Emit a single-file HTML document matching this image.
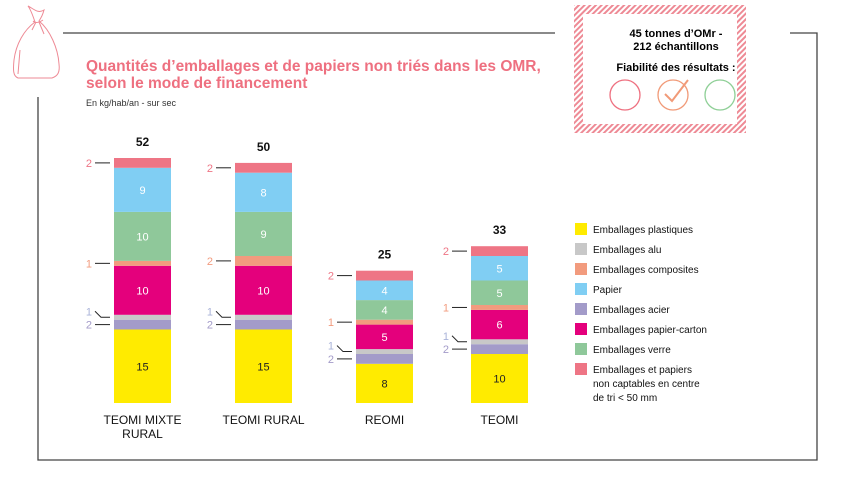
<!DOCTYPE html>
<html><head><meta charset="utf-8"><style>
body{margin:0;width:842px;height:478px;background:#fff;font-family:"Liberation Sans",sans-serif;position:relative;overflow:hidden}
svg{position:absolute;left:0;top:0}
</style></head><body>
<svg width="842" height="478">
<defs><pattern id="hatch" width="4" height="4" patternUnits="userSpaceOnUse" patternTransform="rotate(45)"><rect width="4" height="4" fill="#fff"/><rect width="2" height="4" fill="#ee8a95"/></pattern></defs>
<g stroke="#444" stroke-width="1.3" fill="none">
<line x1="63" y1="33" x2="555" y2="33"/><polyline points="790,33 817,33 817,460 38,460 38,97"/>
</g>
<g stroke="#ee8a95" stroke-width="1" fill="none">
<path d="M28,6 C34,9 38,14 44,10 C43,14 41,18 39,21 C50,30 58,48 59,64 C60,72 58,76 52,78 L18,78 C13,76 13,70 14,60 C16,44 24,30 35,22 C33,16 31,10 28,6 Z"/>
<path d="M33,21 C36,24 40,22 43,20 M36,22 L32,30 M39,22 L44,34 M18,74 L20,50"/>
</g>
<text x="86" y="71" font-size="15.5" font-weight="bold" fill="#ee7080">Quantités d’emballages et de papiers non triés dans les OMR,</text>
<text x="86" y="88" font-size="15.5" font-weight="bold" fill="#ee7080">selon le mode de financement</text>
<text x="86" y="106" font-size="9" fill="#333">En kg/hab/an - sur sec</text>
<g>
<rect x="574" y="5" width="172" height="128" fill="url(#hatch)"/><rect x="583" y="14" width="154" height="110" fill="#fff"/>
<text x="676" y="37" font-size="11" font-weight="bold" text-anchor="middle">45 tonnes d’OMr -</text>
<text x="676" y="50" font-size="11" font-weight="bold" text-anchor="middle">212 échantillons</text>
<text x="676" y="71" font-size="11" font-weight="bold" text-anchor="middle">Fiabilité des résultats :</text>
<circle cx="625" cy="95" r="15" fill="none" stroke="#ee7080" stroke-width="1.3"/>
<circle cx="673" cy="95" r="15" fill="none" stroke="#f19a78" stroke-width="1.3"/>
<path d="M665,94 L672,101 L688,80" fill="none" stroke="#f19a78" stroke-width="2"/>
<circle cx="720" cy="95" r="15" fill="none" stroke="#8ecf96" stroke-width="1.3"/>
</g>
<g id="bars"></g><g id="legend"></g>
</svg>
<script>
const categories=["TEOMI MIXTE RURAL","TEOMI RURAL","REOMI","TEOMI"];
const totals=[52,50,25,33];
const series=["Emballages plastiques","Emballages acier","Emballages alu","Emballages papier-carton","Emballages composites","Emballages verre","Papier","Emballages et papiers non captables en centre de tri < 50 mm"];
const plastiques=[15,15,8,10];
const acier=[2,2,2,2];
const alu=[1,1,1,1];
const papierCarton=[10,10,5,6];
const composites=[1,2,1,1];
const verre=[10,9,4,5];
const papier=[9,8,4,5];
const nonCaptables=[2,2,2,2];
const values=[plastiques,acier,alu,papierCarton,composites,verre,papier,nonCaptables];
const colors=["#ffeb00","#a39bc9","#c8c8c8","#e4007c","#f29b7e","#8fc89a","#80cef3","#ee7585"];
const sideColors=["","#a39bc9","#a9b3d9","","#f29b7e","","","#ee7585"];
const legendOrder=[0,2,4,6,1,3,5,7];
const xs=[114,235,356,471],bw=57,base=403,k=4.9;
const y=v=>base-v*k;
const NS="http://www.w3.org/2000/svg";
const g=document.getElementById('bars');
function mk(t,a){const e=document.createElementNS(NS,t);for(const n in a)e.setAttribute(n,a[n]);return e;}
categories.forEach((c,i)=>{
 let acc=0;
 values.forEach((arr,s)=>{
  const v=arr[i];const y0=y(acc),y1=y(acc+v);
  const r=mk('rect',{x:xs[i],y:y1,width:bw,height:y0-y1,fill:colors[s]});
  
  
  g.appendChild(r);
  if(v>=4){const t=mk('text',{x:xs[i]+bw/2,y:(y0+y1)/2+4,'font-size':11,'text-anchor':'middle',fill:s==0?'#222':'#fff'});t.textContent=v;
   
   
   g.appendChild(t);}
  else{const ym=(y0+y1)/2;const ly=s==2?ym-6:ym;const t=mk('text',{x:xs[i]-22,y:ly+4,'font-size':11,'text-anchor':'end',fill:sideColors[s]});t.textContent=v;
   
   
   g.appendChild(t);
   const l=mk('path',{d:`M${xs[i]-19},${ly} ${s==2?'L'+(xs[i]-13)+','+ym:''} L${xs[i]-4},${ym}`,stroke:'#222','stroke-width':1,fill:'none'});
   
   
   g.appendChild(l);}
  acc+=v;
 });
 const tt=mk('text',{x:xs[i]+bw/2,y:y(acc)-12,'font-size':12,'font-weight':'bold','text-anchor':'middle',fill:'#111'});tt.textContent=totals[i];
 
 
 g.appendChild(tt);
 const parts=c=="TEOMI MIXTE RURAL"?["TEOMI MIXTE","RURAL"]:[c];
 parts.forEach((p,j)=>{const t=mk('text',{x:xs[i]+bw/2,y:424+j*14,'font-size':12,'text-anchor':'middle',fill:'#111'});t.textContent=p;
  
  
  g.appendChild(t);});
});
const lg=document.getElementById('legend');
const labels=["Emballages plastiques","Emballages alu","Emballages composites","Papier","Emballages acier","Emballages papier-carton","Emballages verre",["Emballages et papiers","non captables en centre","de tri < 50 mm"]];
legendOrder.forEach((s,j)=>{
 const yy=223+j*20;
 const r=mk('rect',{x:575,y:yy,width:12,height:12,fill:colors[s]});
 
 
 lg.appendChild(r);
 const lines=Array.isArray(labels[j])?labels[j]:[labels[j]];
 lines.forEach((ln,m)=>{const t=mk('text',{x:593,y:yy+10+m*14,'font-size':10,fill:'#111'});t.textContent=ln;
  
  
  lg.appendChild(t);});
});
</script>
</body></html>
